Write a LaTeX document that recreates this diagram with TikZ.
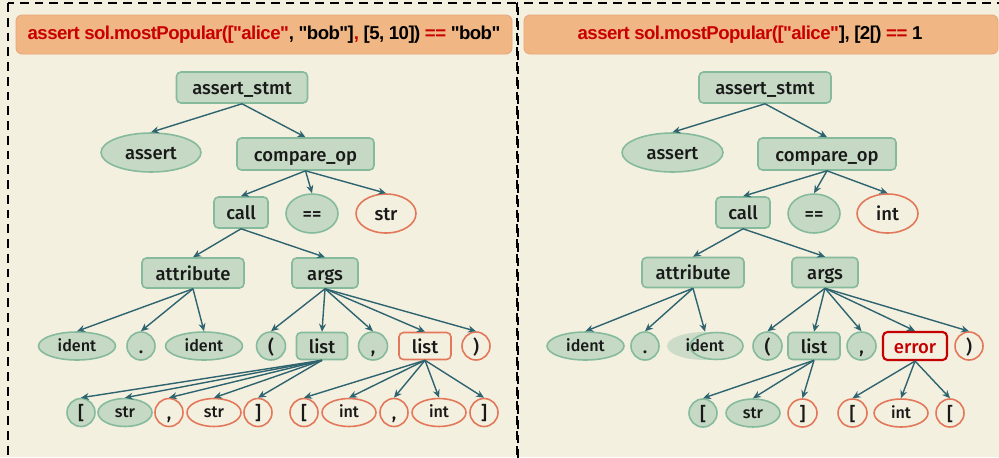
\documentclass[tikz,border=0pt]{standalone}
\usepackage{fontspec}
\setmainfont{Fira Sans}[UprightFont={* Medium}]
\newfontfamily\titlefont[LetterSpace=-3]{Liberation Sans}
\usetikzlibrary{arrows.meta,shapes.geometric}

\definecolor{cream}{HTML}{F4F0DF}
\definecolor{gfill}{HTML}{C5D9C4}
\definecolor{gline}{HTML}{86BA9C}
\definecolor{oline}{HTML}{E2775A}
\definecolor{errred}{HTML}{C40000}
\definecolor{edgec}{HTML}{2E6470}
\definecolor{tfill}{HTML}{F0B684}
\definecolor{tline}{HTML}{EBA67A}
\definecolor{tred}{HTML}{C80000}

\tikzset{
	tnode/.style={inner sep=0pt, font=\fontsize{10.5}{12}\selectfont, text=black!90, text height=9.4pt, text depth=1.2pt},
	smalltext/.style={font=\fontsize{9.2}{11}\selectfont, text height=8pt, text depth=2.2pt},
	lowrow/.style={minimum height=0.56cm},
	gbox/.style={tnode, rectangle, rounded corners=2.5pt, fill=gfill, draw=gline, line width=0.9pt, minimum width=#1, minimum height=0.62cm},
	obox/.style={tnode, rectangle, rounded corners=2.5pt, fill=cream, draw=oline, line width=0.9pt, minimum width=#1, minimum height=0.62cm},
	errbox/.style={obox=#1, draw=errred, line width=1.2pt, text=errred},
	gell/.style={tnode, ellipse, fill=gfill, draw=gline, line width=0.9pt, minimum width=#1, minimum height=0.78cm},
	oell/.style={tnode, ellipse, fill=cream, draw=oline, line width=0.9pt, minimum width=#1, minimum height=0.78cm},
	edge/.style={draw=edgec, line width=0.8pt, -{Stealth[length=4.5pt,width=4pt]}},
	panel/.style={draw=black, line width=0.75pt, dash pattern=on 5pt off 3.4pt},
	titlebox/.style={fill=tfill, draw=tline, line width=0.5pt, rounded corners=3.5pt},
	titletext/.style={inner sep=0pt, font=\titlefont\bfseries\fontsize{10.6}{12}\selectfont}
}

\begin{document}
\begin{tikzpicture}[x=0.02cm, y=-0.02cm]
		%%%%% START %%%%%
		
		\fill[cream] (0,0) rectangle (999,457);
		\useasboundingbox (0,0) rectangle (999,457);
		\draw[panel] (8,3) rectangle (518,470);
		\draw[panel] (517,3) rectangle (1010,470);
		
		% left: passing test
		\draw[titlebox] (16,15) rectangle (512,54);
		\node[titletext] (Ltitle) at (264,34.5) {\color{tred}assert sol.mostPopular(["alice"\color{black}, "bob"]\color{tred}, \color{black}[5, 10]) \color{tred}== \color{black}"bob"};
		
		\node[gbox=2.62cm] (Lstmt) at (242,87.5) {assert\_stmt};
		\node[gell=2.0cm] (Lassert) at (151,152.5) {assert};
		\node[gbox=2.74cm, minimum height=0.64cm] (Lcmp) at (305.5,154) {compare\_op};
		\node[gbox=1.08cm] (Lcall) at (241,212.5) {call};
		\node[gell=1.04cm] (Leq) at (312,213.5) {==};
		\node[oell=1.2cm] (Lstr) at (386,213.5) {str};
		\node[gbox=2.04cm, minimum height=0.6cm] (Lattr) at (193,273) {attribute};
		\node[gbox=1.32cm, minimum height=0.6cm] (Largs) at (325,273) {args};
		
		\node[gell=1.54cm, lowrow, smalltext] (Lid1) at (77,346) {ident};
		\node[gell=0.56cm, lowrow] (Ldot) at (141,346) {.};
		\node[gell=1.54cm, lowrow, smalltext] (Lid2) at (204,346) {ident};
		\node[gell=0.58cm, lowrow] (Llp) at (271,346) {(};
		\node[gbox=1.02cm, minimum height=0.54cm] (Llist1) at (322,346) {list};
		\node[gell=0.58cm, lowrow] (Lcomma) at (373,346) {,};
		\node[obox=1.04cm, minimum height=0.54cm] (Llist2) at (425,346) {list};
		\node[oell=0.56cm, lowrow] (Lrp) at (476,346) {)};
		
		\node[gell=0.56cm, lowrow] (La1) at (81,412.5) {[};
		\node[gell=1.08cm, lowrow, smalltext] (La2) at (125,412.5) {str};
		\node[oell=0.56cm, lowrow] (La3) at (169,412.5) {,};
		\node[oell=1.08cm, lowrow, smalltext] (La4) at (214,412.5) {str};
		\node[oell=0.56cm, lowrow] (La5) at (258,412.5) {]};
		\node[oell=0.56cm, lowrow] (Lb1) at (304,412.5) {[};
		\node[oell=1.08cm, lowrow, smalltext] (Lb2) at (349,412.5) {int};
		\node[oell=0.56cm, lowrow] (Lb3) at (394,412.5) {,};
		\node[oell=1.08cm, lowrow, smalltext] (Lb4) at (439,412.5) {int};
		\node[oell=0.56cm, lowrow] (Lb5) at (484,412.5) {]};
		
		\foreach \c in {Lassert,Lcmp} \draw[edge] (Lstmt.south) -- (\c.north);
		\foreach \c in {Lcall,Leq,Lstr} \draw[edge] (Lcmp.south) -- (\c.north);
		\foreach \c in {Lattr,Largs} \draw[edge] (Lcall.south) -- (\c.north);
		\foreach \c in {Lid1,Ldot,Lid2} \draw[edge] (Lattr.south) -- (\c.north);
		\foreach \c in {Llp,Llist1,Lcomma,Llist2,Lrp} \draw[edge] (Largs.south) -- (\c.north);
		\foreach \c in {La1,La2,La3,La4,La5} \draw[edge] (Llist1.south) -- (\c.north);
		\foreach \c in {Lb1,Lb2,Lb3,Lb4,Lb5} \draw[edge] (Llist2.south) -- (\c.north);
		
		% right: broken test
		\draw[titlebox] (524,15) rectangle (998,54);
		\node[titletext] (Rtitle) at (750,34.5) {\color{tred}assert sol.mostPopular(["alice"\color{black}], [2[) \color{tred}== \color{black}1};
		
		\node[gbox=2.64cm] (Rstmt) at (765,87.5) {assert\_stmt};
		\node[gell=2.02cm] (Rassert) at (672.5,152.5) {assert};
		\node[gbox=2.76cm, minimum height=0.64cm] (Rcmp) at (827,154) {compare\_op};
		\node[gbox=1.08cm] (Rcall) at (743,212.5) {call};
		\node[gell=1.04cm] (Req) at (814,213.5) {==};
		\node[oell=1.22cm] (Rint) at (887.5,213.5) {int};
		\node[gbox=2.04cm, minimum height=0.6cm] (Rattr) at (693,272.5) {attribute};
		\node[gbox=1.32cm, minimum height=0.6cm] (Rargs) at (825,272.5) {args};
		
		\node[gell=1.54cm, lowrow, smalltext] (Rid1) at (585.5,346) {ident};
		\node[gell=0.56cm, lowrow] (Rdot) at (645,346) {.};
		\node[tnode, ellipse, fill=gfill!85!cream, minimum width=1.52cm, lowrow, smalltext] (Rid2) at (705,346) {ident};
		\draw[gline, line width=0.9pt] (716.5,346) ellipse [x radius=0.53cm, y radius=0.27cm];
		\node[gell=0.58cm, lowrow] (Rlp) at (767.5,346) {(};
		\node[gbox=1.04cm, minimum height=0.54cm] (Rlist) at (814,346) {list};
		\node[gell=0.58cm, lowrow] (Rcomma) at (861.5,346) {,};
		\node[errbox=1.28cm, minimum height=0.56cm] (Rerr) at (915,346) {error};
		\node[oell=0.56cm, lowrow] (Rrp) at (969,346) {)};
		
		\node[gell=0.56cm, lowrow] (Ra1) at (703,413) {[};
		\node[gell=1.08cm, lowrow, smalltext] (Ra2) at (753,413) {str};
		\node[oell=0.58cm, lowrow] (Ra3) at (802.5,413) {]};
		\node[oell=0.58cm, lowrow] (Rb1) at (852.5,413) {[};
		\node[oell=1.08cm, lowrow, smalltext] (Rb2) at (901,413) {int};
		\node[oell=0.56cm, lowrow] (Rb3) at (950,413) {[};
		
		\foreach \c in {Rassert,Rcmp} \draw[edge] (Rstmt.south) -- (\c.north);
		\foreach \c in {Rcall,Req,Rint} \draw[edge] (Rcmp.south) -- (\c.north);
		\foreach \c in {Rattr,Rargs} \draw[edge] (Rcall.south) -- (\c.north);
		\foreach \c in {Rid1,Rdot,Rid2} \draw[edge] (Rattr.south) -- (\c.north);
		\foreach \c in {Rlp,Rlist,Rcomma,Rerr,Rrp} \draw[edge] (Rargs.south) -- (\c.north);
		\foreach \c in {Ra1,Ra2,Ra3} \draw[edge] (Rlist.south) -- (\c.north);
		\foreach \c in {Rb1,Rb2,Rb3} \draw[edge] (Rerr.south) -- (\c.north);
		
		%%%%% END %%%%%
\end{tikzpicture}
\end{document}
